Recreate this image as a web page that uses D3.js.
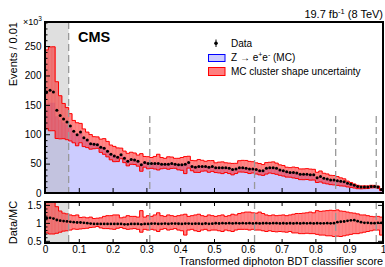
<!DOCTYPE html>
<html><head><meta charset="utf-8">
<script src="https://cdn.jsdelivr.net/npm/d3@7"></script>
<style>
body{margin:0;background:#fff;}
svg{display:block;font-family:"Liberation Sans",Arial,sans-serif;}
</style></head><body>
<svg id="chart" width="385" height="267"></svg>
<script>
// events per 0.01 bin, in units of 10^3
const dataEvents=[172,175,172,141,132,126,121,114,105,99,
  104,94,90,84,83,82,78,76,71,66,
  63,61,65,59,54,57,56,54,48,52,
  50,50,50,50,49,49,49,50,49,48,
  48,49,52,45,44,45,45,45,44,45,
  43,43,43,43,42,40,41,43,43,42,
  41,41,40,38,38,42,43,43,42,39,
  38,36,35,35,34,32,32,32,31,31,
  26,28,25,24,22,22,21,20,19,16.5,
  15,13,11,10,10,10,11,11,10,6];
const mcEvents=[152.2,153.5,153.6,130.6,124.5,120,116.3,110.7,102.9,98,
  103,94,90.9,85.7,85.6,84.5,80.4,78.4,73.2,68,
  65,62.9,67,61.5,56.3,58.8,57.7,55.7,50,53.6,
  51.5,51.2,51,51.5,50.3,50,50.5,51,50,49.2,
  49.5,50,53,46.2,45,46,46.4,45.8,45.2,46,
  43.5,43.8,43.4,43.6,42.4,40.6,41.4,43.6,43.4,42.6,
  41.4,41.6,40.4,38.6,38.4,42.4,43.6,43.4,42.4,39.6,
  38.4,36.6,35.4,35.6,34.3,32.5,32.3,32.4,31.3,31.5,
  26.3,28.4,25.3,24.2,22.3,22.2,20.6,19.4,18.3,15.6,
  14,12.1,10.5,9.8,10,10,11.1,11.1,10,6];
// MC cluster shape uncertainty, relative to MC
const uncUp=[1.60,1.62,1.62,1.45,1.33,1.27,1.25,1.22,1.20,1.22,
  1.15,1.16,1.14,1.16,1.12,1.13,1.14,1.18,1.20,1.20,
  1.22,1.22,1.14,1.16,1.20,1.18,1.18,1.16,1.34,1.16,
  1.20,1.18,1.22,1.28,1.20,1.18,1.22,1.20,1.18,1.20,
  1.22,1.24,1.18,1.20,1.22,1.24,1.20,1.18,1.22,1.20,
  1.18,1.20,1.22,1.18,1.20,1.24,1.22,1.26,1.28,1.30,
  1.30,1.28,1.27,1.30,1.26,1.22,1.20,1.22,1.20,1.21,
  1.22,1.20,1.22,1.24,1.26,1.26,1.27,1.28,1.30,1.28,
  1.34,1.32,1.33,1.34,1.35,1.34,1.36,1.33,1.32,1.30,
  1.28,1.27,1.25,1.22,1.22,1.20,1.18,1.17,1.18,1.16];
const uncDown=[0.72,0.69,0.69,0.71,0.74,0.77,0.78,0.80,0.83,0.82,
  0.83,0.84,0.85,0.87,0.88,0.90,0.86,0.84,0.84,0.83,
  0.82,0.85,0.87,0.84,0.82,0.83,0.84,0.82,0.74,0.82,
  0.80,0.82,0.80,0.76,0.82,0.84,0.80,0.82,0.84,0.80,
  0.78,0.66,0.80,0.82,0.78,0.76,0.80,0.82,0.78,0.80,
  0.80,0.78,0.76,0.80,0.78,0.76,0.80,0.82,0.82,0.82,
  0.80,0.82,0.80,0.80,0.78,0.76,0.78,0.76,0.75,0.76,
  0.75,0.74,0.76,0.72,0.72,0.70,0.70,0.71,0.70,0.70,
  0.68,0.66,0.66,0.64,0.64,0.62,0.63,0.62,0.64,0.66,
  0.68,0.70,0.70,0.72,0.74,0.76,0.78,0.80,0.80,0.66];
const binWidth=0.01;
const categoryCuts=[0.07,0.31,0.62,0.86,0.98];
const cutLineTop=[291,131,131,131,131];
const greyRegion=[0,0.07];
const xTicks=[0,0.1,0.2,0.3,0.4,0.5,0.6,0.7,0.8,0.9,1];
const xTickLabels=["0","0.1","0.2","0.3","0.4","0.5","0.6","0.7","0.8","0.9","1"];
const yTicksMain=[0,50,100,150,200,250];
const yTicksRatio=[0.5,1,1.5];

const L=45,R=383,mainTop=22,mainBot=193,ratTop=202,ratBot=243;
const svg=d3.select("#chart");
const x=d3.scaleLinear().domain([0,1]).range([L,R]);
const y=d3.scaleLinear().domain([0,291]).range([mainBot,mainTop]);
const yr=d3.scaleLinear().domain([0.44,1.58]).range([ratBot,ratTop]);

const bins=dataEvents.map((d,i)=>({lo:i*binWidth,data:d,mc:mcEvents[i],up:uncUp[i],dn:uncDown[i]}));
const bw=x(binWidth)-x(0);

const defs=svg.append("defs");
defs.append("clipPath").attr("id","clipMain").append("rect").attr("x",L).attr("y",mainTop).attr("width",R-L).attr("height",mainBot-mainTop);
defs.append("clipPath").attr("id","clipRatio").append("rect").attr("x",L).attr("y",ratTop).attr("width",R-L).attr("height",ratBot-ratTop);

// band: translucent boxes, then step outlines along the upper and lower edges
function drawBand(g,yFn){
  g.selectAll("rect.band").data(bins).join("rect").attr("class","band")
    .attr("x",d=>x(d.lo)).attr("width",bw+0.02)
    .attr("y",d=>yFn(d,"up")).attr("height",d=>yFn(d,"dn")-yFn(d,"up"))
    .attr("fill","rgba(255,0,0,0.47)");
  ["up","dn"].forEach(k=>{
    const pts=bins.map(b=>[x(b.lo),yFn(b,k)]);
    pts.push([x(1),yFn(bins[bins.length-1],k)]);
    g.append("path").datum(pts).attr("d",d3.line().curve(d3.curveStepAfter))
      .attr("fill","none").attr("stroke","#ff0000").attr("stroke-width",1);
  });
  // bin edges inside the band
  g.selectAll("line.edge").data(bins.slice(1)).join("line").attr("class","edge")
    .attr("x1",d=>x(d.lo)).attr("x2",d=>x(d.lo))
    .attr("y1",(d,i)=>Math.min(yFn(d,"up"),yFn(bins[i],"up")))
    .attr("y2",(d,i)=>Math.max(yFn(d,"dn"),yFn(bins[i],"dn")))
    .attr("stroke","rgba(255,0,0,0.35)").attr("stroke-width",0.5);
}

// ---- main panel
const gm=svg.append("g").attr("clip-path","url(#clipMain)");
const stepPts=bins.map(b=>[b.lo,b.mc]).concat([[1,mcEvents[mcEvents.length-1]]]);
gm.append("path").datum(stepPts)
  .attr("d",d3.area().curve(d3.curveStepAfter).x(d=>x(d[0])).y0(y(0)).y1(d=>y(d[1])))
  .attr("fill","#ccccff");
gm.append("rect").attr("x",x(greyRegion[0])).attr("width",x(greyRegion[1])-x(greyRegion[0]))
  .attr("y",mainTop).attr("height",mainBot-mainTop).attr("fill","rgba(185,185,185,0.45)");
drawBand(gm,(d,k)=>y(d.mc*d[k]));
gm.selectAll("line.cut").data(categoryCuts).join("line").attr("class","cut")
  .attr("x1",d=>x(d)).attr("x2",d=>x(d))
  .attr("y1",(d,i)=>y(cutLineTop[i])).attr("y2",mainBot)
  .attr("stroke","#999").attr("stroke-width",1.3).attr("stroke-dasharray","7,4");
gm.selectAll("circle.pt").data(bins).join("circle").attr("class","pt")
  .attr("cx",d=>x(d.lo+binWidth/2)).attr("cy",d=>y(d.data)).attr("r",1.5).attr("fill","#000");

// ---- ratio panel
const gr=svg.append("g").attr("clip-path","url(#clipRatio)");
gr.append("rect").attr("x",x(greyRegion[0])).attr("width",x(greyRegion[1])-x(greyRegion[0]))
  .attr("y",ratTop).attr("height",ratBot-ratTop).attr("fill","#dedede");
drawBand(gr,(d,k)=>yr(d[k]));
gr.selectAll("line.cut").data(categoryCuts).join("line").attr("class","cut")
  .attr("x1",d=>x(d)).attr("x2",d=>x(d)).attr("y1",ratTop).attr("y2",ratBot)
  .attr("stroke","#999").attr("stroke-width",1.3).attr("stroke-dasharray","7,4");
gr.selectAll("circle.pt").data(bins).join("circle").attr("class","pt")
  .attr("cx",d=>x(d.lo+binWidth/2)).attr("cy",d=>yr(d.data/d.mc)).attr("r",1.4).attr("fill","#000");

// ---- axes
function styleAxis(g){ g.select(".domain").remove(); g.selectAll("line").attr("stroke","#000"); g.selectAll("text").attr("font-size",10).attr("fill","#000").attr("font-family","Liberation Sans, Arial, sans-serif"); }
const minorMain=d3.range(0,291,10).filter(v=>v%50!==0);
svg.append("g").attr("transform",`translate(${L},0)`).call(d3.axisLeft(y).tickValues(minorMain).tickSize(-2.5).tickFormat("")).call(styleAxis);
svg.append("g").attr("transform",`translate(${L},0)`).call(d3.axisLeft(y).tickValues(yTicksMain).tickSizeInner(-5).tickSizeOuter(0).tickPadding(3.5)).call(styleAxis);
svg.append("g").attr("transform",`translate(0,${mainBot})`).call(d3.axisBottom(x).tickValues(xTicks).tickSize(-5).tickFormat("")).call(styleAxis);

const minorRatio=[0.6,0.7,0.8,0.9,1.1,1.2,1.3,1.4];
svg.append("g").attr("transform",`translate(${L},0)`).call(d3.axisLeft(yr).tickValues(minorRatio).tickSize(-2.5).tickFormat("")).call(styleAxis);
svg.append("g").attr("transform",`translate(${L},0)`).call(d3.axisLeft(yr).tickValues(yTicksRatio).tickSizeInner(-5).tickPadding(3.5).tickFormat(d3.format("~g"))).call(styleAxis);
svg.append("g").attr("transform",`translate(${R},0)`).call(d3.axisRight(yr).tickValues(yTicksRatio).tickSize(-5).tickFormat("")).call(styleAxis);
svg.append("g").attr("transform",`translate(0,${ratBot})`).call(d3.axisBottom(x).tickValues(xTicks).tickSizeInner(-4).tickPadding(2.8).tickFormat((d,i)=>xTickLabels[i])).call(styleAxis);
svg.append("g").attr("transform",`translate(0,${ratTop})`).call(d3.axisTop(x).tickValues(xTicks).tickSize(-4).tickFormat("")).call(styleAxis);

// frames
[[mainTop,mainBot],[ratTop,ratBot]].forEach(([t,b])=>{
  svg.append("rect").attr("x",L).attr("y",t).attr("width",R-L).attr("height",b-t)
    .attr("fill","none").attr("stroke","#000").attr("stroke-width",2);
});

// ---- texts
svg.append("text").attr("transform","translate(16.5,22) rotate(-90)").attr("text-anchor","end")
  .attr("font-size",11).text("Events / 0.01");
svg.append("text").attr("transform",`translate(16.5,${(ratTop+ratBot)/2}) rotate(-90)`).attr("text-anchor","middle")
  .attr("font-size",11).text("Data/MC");
const exp=svg.append("text").attr("x",23).attr("y",25).attr("font-size",9);
exp.append("tspan").text("×10");
exp.append("tspan").attr("font-size",6.5).attr("dy",-4).text("3");
svg.append("text").attr("x",R).attr("y",265).attr("text-anchor","end").attr("font-size",10.8)
  .text("Transformed diphoton BDT classifier score");
const lumi=svg.append("text").attr("x",R).attr("y",17.5).attr("text-anchor","end").attr("font-size",11);
lumi.append("tspan").text("19.7 fb");
lumi.append("tspan").attr("font-size",7.5).attr("dy",-4).text("-1");
lumi.append("tspan").attr("dy",4).text(" (8 TeV)");
svg.append("text").attr("x",78).attr("y",42).attr("font-size",14.5).attr("font-weight","bold").text("CMS");

// ---- legend
const lg=svg.append("g");
lg.append("line").attr("x1",216).attr("x2",216).attr("y1",39.5).attr("y2",47).attr("stroke","#000").attr("stroke-width",1);
lg.append("circle").attr("cx",216).attr("cy",43.3).attr("r",1.8).attr("fill","#000");
lg.append("text").attr("x",231).attr("y",46.7).attr("font-size",10).text("Data");
lg.append("rect").attr("x",208.5).attr("y",54.5).attr("width",16.5).attr("height",7).attr("fill","#ccccff").attr("stroke","#0000ff").attr("stroke-width",1);
const zt=lg.append("text").attr("x",231).attr("y",60.5).attr("font-size",10);
zt.append("tspan").text("Z → e");
zt.append("tspan").attr("font-size",7).attr("dy",-3.5).text("+");
zt.append("tspan").attr("dy",3.5).text("e");
zt.append("tspan").attr("font-size",7).attr("dy",-3.5).text("-");
zt.append("tspan").attr("dy",3.5).text(" (MC)");
lg.append("rect").attr("x",208.5).attr("y",67.5).attr("width",16.5).attr("height",8).attr("fill","rgba(255,0,0,0.5)").attr("stroke","#ff0000").attr("stroke-width",1);
lg.append("text").attr("x",231).attr("y",74.5).attr("font-size",10).text("MC cluster shape uncertainty");
</script>
</body></html>
